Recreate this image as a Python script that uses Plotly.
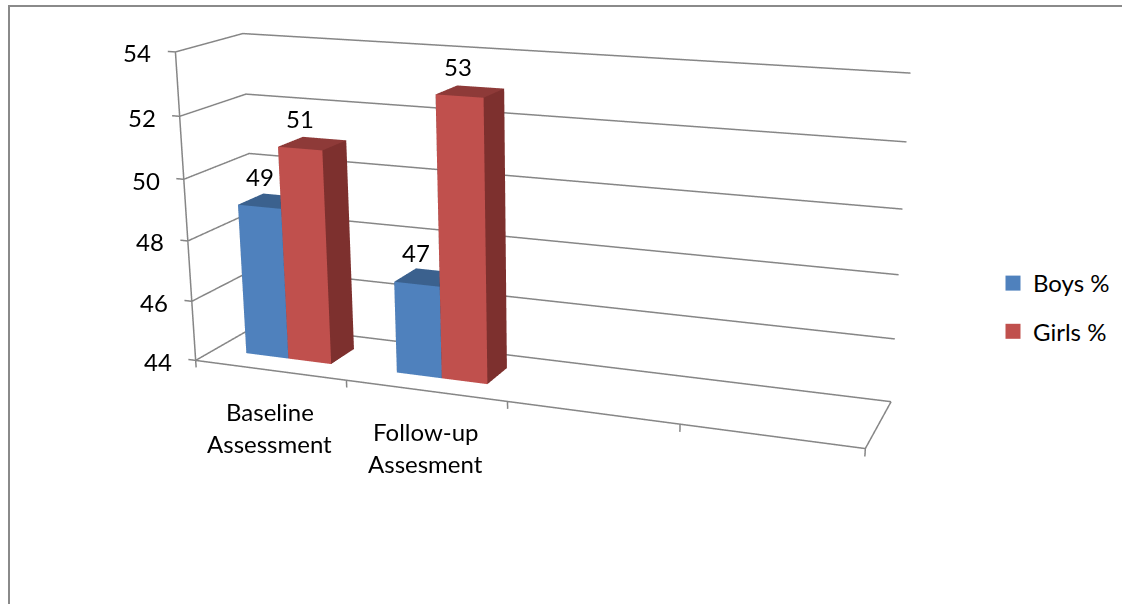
import numpy as np
import plotly.graph_objects as go

categories = ["Baseline Assessment", "Follow-up Assesment"]
cat_lines = [["Baseline", "Assessment"], ["Follow-up", "Assesment"]]
series_names = ["Boys %", "Girls %"]
boys = [49, 47]
girls = [51, 53]
z_ticks = [44, 46, 48, 50, 52, 54]
x_ticks = [0, 1, 2, 3, 4]

# Camera of the original's flat perspective: a tall canvas, shifted so its centre sits at mid-window
HT = 1450
TOP = HT // 2 - 302
W0, D0, H0 = 2.000, 0.370, 0.919
EYE0 = np.array([1.735, -4.414, 1.244])
CEN0 = np.array([0.101, -0.030, -0.204])
UP = np.array([-0.103, 0.277, 0.955])

# nominal box and the slightly wider axis ranges (so ticks outside the box are kept)
box = [(0.0, 4.0), (0.0, 1.0), (44.0, 54.0)]
rng = [(-0.09, 4.02), (-0.01, 1.01), (43.72, 54.03)]
asp0 = np.array([W0, D0, H0])
scale = np.array([asp0[i] / (box[i][1] - box[i][0]) for i in range(3)])
asp = np.array([(rng[i][1] - rng[i][0]) * scale[i] for i in range(3)])
shift = np.array([((box[i][0] + box[i][1]) - (rng[i][0] + rng[i][1])) / 2 * scale[i] for i in range(3)])
EYE, CEN = EYE0 + shift, CEN0 + shift


def bar_mesh(vals, offs, front, top, side, name):
    X = []; Y = []; Z = []; I = []; J = []; K = []; FC = []
    for n, v in enumerate(vals):
        x0 = n + offs; x1 = x0 + 0.2857; y0 = .3; y1 = .7
        b = len(X)
        for zz in (z_ticks[0], v):
            for (xx, yy) in ((x0, y0), (x1, y0), (x1, y1), (x0, y1)):
                X.append(xx); Y.append(yy); Z.append(zz)
        faces = [(0, 1, 5, front), (0, 5, 4, front), (1, 2, 6, side), (1, 6, 5, side), (4, 5, 6, top), (4, 6, 7, top),
                 (2, 3, 7, side), (2, 7, 6, side), (3, 0, 4, side), (3, 4, 7, side)]
        for a, b2, c2, col in faces:
            I.append(b + a); J.append(b + b2); K.append(b + c2); FC.append(col)
    return go.Mesh3d(x=X, y=Y, z=Z, i=I, j=J, k=K, facecolor=FC, flatshading=True, name=name,
                     lighting=dict(ambient=1, diffuse=0, specular=0, fresnel=0, roughness=1),
                     hoverinfo="skip", showlegend=False)


BLUE = "#4F81BD"; RED = "#C0504D"; GRAY = "#868686"
FONT = dict(family="Lato", size=24, color="black")
LINE = dict(color=GRAY, width=3)
traces = [bar_mesh(boys, .2143, BLUE, "#3B618E", "#3B618E", series_names[0]),
          bar_mesh(girls, .5, RED, "#8E3A38", "#7D302E", series_names[1])]


def seg(x, y, z):
    return go.Scatter3d(x=x, y=y, z=z, mode="lines", line=LINE, showlegend=False, hoverinfo="skip")


traces.append(seg([0, 4, 4], [0, 0, 1], [z_ticks[0]] * 3))
traces.append(seg([0, 0], [0, 0], [z_ticks[0], z_ticks[-1]]))
for t in z_ticks:
    traces.append(seg([0, 0, 4], [0, 1, 1], [t, t, t]))
    traces.append(seg([-0.05, 0], [0, 0], [t, t]))
for t in x_ticks:
    traces.append(seg([t, t], [0, 0], [z_ticks[0] - 0.24, z_ticks[0]]))
for nm, col in zip(series_names, (BLUE, RED)):
    traces.append(go.Scatter3d(x=[None], y=[None], z=[None], mode="markers", name=nm, legendgroup=nm,
                               marker=dict(color=col, size=15, symbol="square"), hoverinfo="skip"))

ann = []
for t in z_ticks:
    ann.append(dict(x=0, y=0, z=t, text=str(t), showarrow=False, xanchor="right", xshift=-22, yshift=-1, font=FONT))
for n, ls in enumerate(cat_lines):
    for k, l in enumerate(ls):
        ann.append(dict(x=n + .5, y=0, z=z_ticks[0], text=l, showarrow=False, yshift=-41 - 32 * k, xshift=0, font=FONT))
for n, v in enumerate(boys):
    ann.append(dict(x=n + .357, y=.5, z=v, text=str(v), showarrow=False, yshift=25, xshift=-12, font=FONT))
for n, v in enumerate(girls):
    ann.append(dict(x=n + .643, y=.5, z=v, text=str(v), showarrow=False, yshift=25, xshift=-12, font=FONT))

hid = dict(showbackground=False, showgrid=False, zeroline=False, showticklabels=False, title="", showspikes=False,
           showline=False, ticks="")
fig = go.Figure(traces)
fig.update_layout(width=1122, height=HT, margin=dict(l=0, r=0, t=0, b=0), paper_bgcolor="white", font=FONT,
                  scene=dict(domain=dict(x=[0, 1], y=[0, 1]), aspectmode="manual",
                             aspectratio=dict(x=asp[0], y=asp[1], z=asp[2]),
                             camera=dict(eye=dict(x=EYE[0], y=EYE[1], z=EYE[2]),
                                         center=dict(x=CEN[0], y=CEN[1], z=CEN[2]),
                                         up=dict(x=UP[0], y=UP[1], z=UP[2])),
                             xaxis=dict(hid, range=rng[0]), yaxis=dict(hid, range=rng[1]), zaxis=dict(hid, range=rng[2]),
                             annotations=ann),
                  legend=dict(x=993 / 1122, y=1 - (261 + TOP) / HT, xanchor="left", yanchor="top", tracegroupgap=14, font=FONT),
                  shapes=[dict(type="path", xref="paper", yref="paper",
                               path="M %f %f L %f %f L 1 %f" % (9 / 1122, 1 - (TOP + 700) / HT, 9 / 1122, 1 - (TOP + 6) / HT, 1 - (TOP + 6) / HT),
                               line=dict(color="#8a8a8a", width=2))])
fig.write_html("out.html", config=dict(displayModeBar=False),
               post_script="document.body.style.margin='0';document.body.style.marginTop='-%dpx';document.documentElement.style.overflow='hidden';" % TOP)
